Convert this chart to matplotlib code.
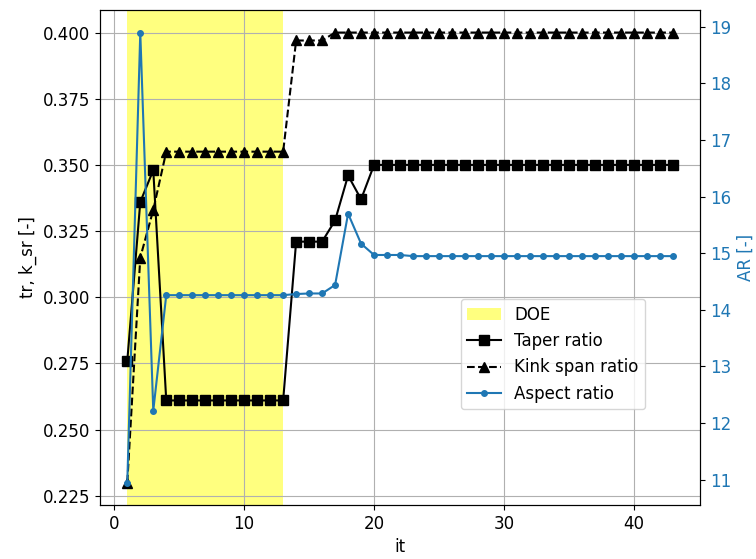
import numpy as np
import matplotlib
matplotlib.use('Agg')
import matplotlib.pyplot as plt

plt.rcParams['font.size'] = 12

# iteration numbers
it = list(range(1, 44))

# taper ratio per iteration
taper = [0.276, 0.336, 0.348] + [0.261] * 10 + [0.321, 0.321, 0.321, 0.329, 0.346, 0.337] + [0.350] * 24

# kink span ratio per iteration
kink = [0.230, 0.315, 0.333] + [0.355] * 10 + [0.397, 0.397, 0.397] + [0.400] * 27

# aspect ratio per iteration
aspect = [10.95, 18.90, 12.22] + [14.26] * 10 + [14.28, 14.29, 14.29, 14.44, 15.70, 15.17, 14.97, 14.97, 14.97] + [14.95] * 21

doe_start = 1
doe_end = 13

fig, ax1 = plt.subplots(figsize=(7.56, 5.59), dpi=100)
fig.subplots_adjust(left=0.1323, right=0.926, top=0.982, bottom=0.0966)

h_doe = ax1.axvspan(doe_start, doe_end, color='yellow', alpha=0.5, lw=0, label='DOE')
h_tr, = ax1.plot(it, taper, 'k-s', markersize=7.5, label='Taper ratio')
h_ks, = ax1.plot(it, kink, 'k--^', markersize=7.5, label='Kink span ratio')
ax1.set_xlabel('it')
ax1.set_ylabel('tr, k_sr [-]')
ax1.grid(True)

ax2 = ax1.twinx()
h_ar, = ax2.plot(it, aspect, '.-', color='tab:blue', markersize=8, label='Aspect ratio')
ax2.set_ylabel('AR [-]', color='tab:blue')
ax2.tick_params(axis='y', labelcolor='tab:blue')

ax2.legend(handles=[h_doe, h_tr, h_ks, h_ar], loc='upper left',
           bbox_to_anchor=(0.601, 0.416), borderaxespad=0)

fig.savefig('out.png', dpi=100)
